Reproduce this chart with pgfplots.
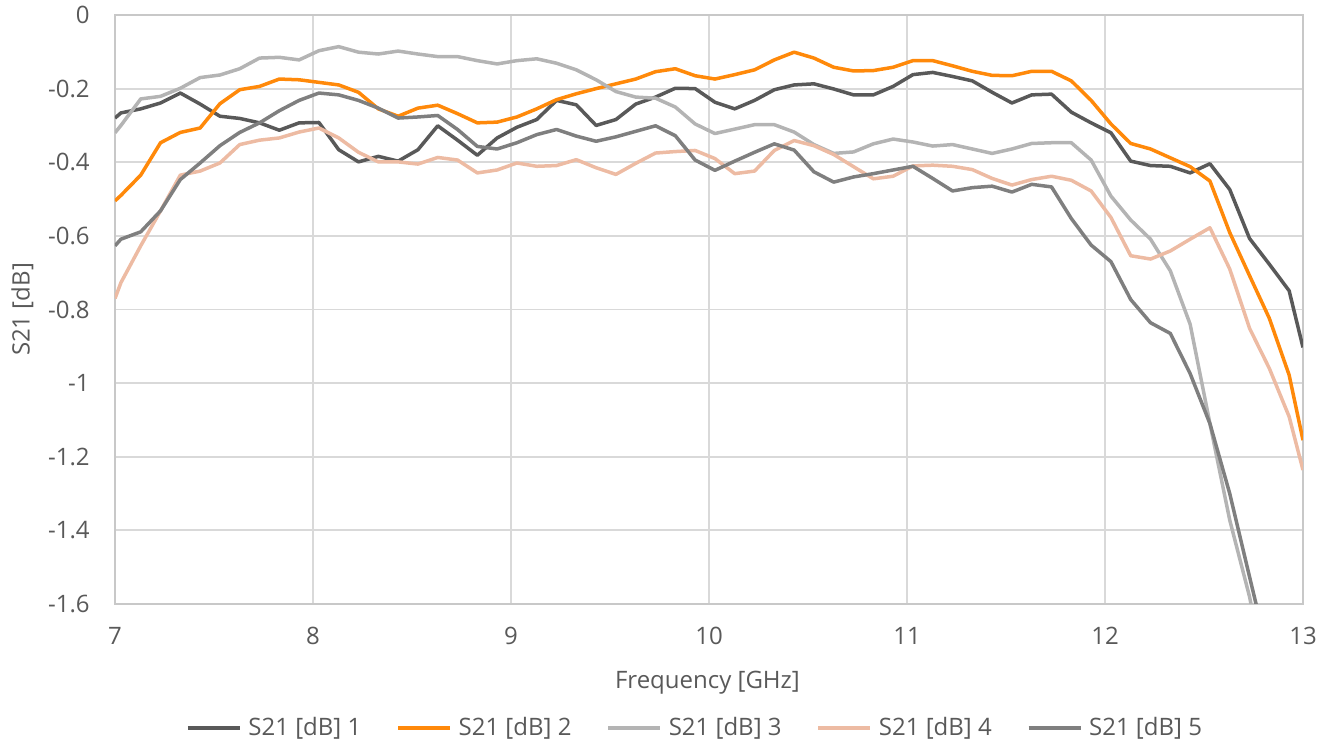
\documentclass[border=0pt]{standalone}
\usepackage{pgfplots}
\pgfplotsset{compat=1.18}
\usepackage{pgfplotstable}
\usepackage{fontspec}
\setmainfont{Open Sans}
\definecolor{s1}{RGB}{89,89,89}
\definecolor{s2}{RGB}{255,137,10}
\definecolor{s3}{RGB}{180,180,180}
\definecolor{s4}{RGB}{237,187,163}
\definecolor{s5}{RGB}{127,127,127}
\definecolor{txt}{RGB}{89,89,89}
\definecolor{grd}{RGB}{217,217,217}
\definecolor{brd}{RGB}{200,200,200}

\pgfplotstableread{
x      a       b       c       d       e
7.00  -0.280  -0.505  -0.320  -0.770  -0.627
7.03  -0.266  -0.490  -0.300  -0.727  -0.609
7.13  -0.255  -0.435  -0.228  -0.627  -0.589
7.23  -0.239  -0.347  -0.221  -0.532  -0.532
7.33  -0.212  -0.319  -0.199  -0.435  -0.447
7.43  -0.242  -0.307  -0.170  -0.424  -0.402
7.53  -0.275  -0.241  -0.163  -0.402  -0.355
7.63  -0.281  -0.203  -0.146  -0.352  -0.319
7.73  -0.293  -0.194  -0.117  -0.340  -0.293
7.83  -0.313  -0.174  -0.115  -0.334  -0.260
7.93  -0.293  -0.176  -0.122  -0.318  -0.232
8.03  -0.292  -0.183  -0.097  -0.307  -0.212
8.13  -0.366  -0.190  -0.086  -0.334  -0.217
8.23  -0.399  -0.210  -0.101  -0.373  -0.232
8.33  -0.384  -0.255  -0.106  -0.399  -0.253
8.43  -0.397  -0.275  -0.098  -0.399  -0.280
8.53  -0.366  -0.253  -0.106  -0.405  -0.277
8.63  -0.301  -0.245  -0.113  -0.387  -0.273
8.73  -0.340  -0.268  -0.113  -0.394  -0.311
8.83  -0.381  -0.293  -0.124  -0.429  -0.357
8.93  -0.334  -0.291  -0.133  -0.421  -0.364
9.03  -0.305  -0.277  -0.124  -0.402  -0.347
9.13  -0.284  -0.255  -0.119  -0.411  -0.325
9.23  -0.232  -0.230  -0.131  -0.409  -0.311
9.33  -0.244  -0.214  -0.149  -0.393  -0.329
9.43  -0.300  -0.200  -0.176  -0.415  -0.343
9.53  -0.284  -0.187  -0.208  -0.433  -0.331
9.63  -0.242  -0.174  -0.223  -0.403  -0.316
9.73  -0.223  -0.154  -0.226  -0.375  -0.301
9.83  -0.199  -0.146  -0.250  -0.371  -0.328
9.93  -0.200  -0.165  -0.296  -0.368  -0.394
10.03 -0.237  -0.174  -0.322  -0.390  -0.422
10.13 -0.255  -0.162  -0.310  -0.431  -0.397
10.23 -0.232  -0.149  -0.298  -0.424  -0.373
10.33 -0.203  -0.122  -0.298  -0.368  -0.350
10.43 -0.190  -0.101  -0.318  -0.341  -0.367
10.53 -0.187  -0.117  -0.352  -0.355  -0.426
10.63 -0.201  -0.142  -0.376  -0.379  -0.454
10.73 -0.217  -0.152  -0.372  -0.412  -0.440
10.83 -0.217  -0.151  -0.350  -0.445  -0.431
10.93 -0.194  -0.142  -0.337  -0.438  -0.421
11.03 -0.162  -0.124  -0.345  -0.410  -0.411
11.13 -0.156  -0.124  -0.356  -0.408  -0.444
11.23 -0.167  -0.138  -0.352  -0.411  -0.478
11.33 -0.179  -0.153  -0.364  -0.420  -0.469
11.43 -0.210  -0.164  -0.376  -0.444  -0.465
11.53 -0.239  -0.165  -0.364  -0.462  -0.481
11.63 -0.217  -0.153  -0.349  -0.447  -0.460
11.73 -0.215  -0.153  -0.347  -0.438  -0.467
11.83 -0.264  -0.179  -0.347  -0.449  -0.553
11.93 -0.293  -0.232  -0.394  -0.478  -0.625
12.03 -0.320  -0.296  -0.492  -0.550  -0.670
12.13 -0.397  -0.349  -0.557  -0.654  -0.773
12.23 -0.409  -0.364  -0.609  -0.663  -0.836
12.33 -0.411  -0.388  -0.695  -0.641  -0.865
12.43 -0.429  -0.412  -0.840  -0.609  -0.974
12.53 -0.404  -0.451  -1.110  -0.578  -1.110
12.63 -0.474  -0.591  -1.372  -0.690  -1.300
12.73 -0.607  -0.708  -1.580  -0.851  -1.526
12.83 -0.677  -0.824  -1.850  -0.960  -1.750
12.93 -0.749  -0.978  -2.100  -1.091  -1.950
13.00 -0.903  -1.155  -2.300  -1.236  -2.100
}\data

\begin{document}
\begin{tikzpicture}
\useasboundingbox (-57.5bp,-70.5bp) rectangle (607bp,302bp);
\begin{axis}[
  at={(0,0)}, anchor=south west,
  scale only axis, width=594bp, height=294.5bp,
  xmin=7, xmax=13, ymin=-1.6, ymax=0,
  xtick={7,8,9,10,11,12,13},
  ytick={-1.6,-1.4,-1.2,-1,-0.8,-0.6,-0.4,-0.2,0},
  grid=major,
  major grid style={draw=grd, line width=0.9bp},
  axis line style={draw=brd, line width=0.9bp},
  major tick length=0pt,
  tick label style={font=\fontsize{12bp}{14bp}\selectfont, text=txt},
  /pgf/number format/assume math mode=true,
  yticklabel style={anchor=east, inner sep=0pt, xshift=-12.5bp},
  xticklabel style={anchor=base, inner sep=0pt, yshift=-20.25bp},
  xlabel={Frequency [GHz]}, ylabel={S21 [dB]},
  label style={font=\fontsize{12bp}{14bp}\selectfont, text=txt},
  xlabel style={at={(axis description cs:0.4987,-0.1335)}, anchor=center},
  ylabel style={at={(axis description cs:-0.0779,0.5)}, anchor=center},
  legend columns=5,
  legend style={at={(axis description cs:0.4874,-0.2105)}, anchor=center,
    draw=none, fill=none, font=\fontsize{12bp}{14bp}\selectfont, text=txt,
    inner sep=0pt, nodes={inner xsep=0pt, inner ysep=1pt},
    /tikz/every odd column/.append style={column sep=3.3bp},
    /tikz/every even column/.append style={column sep=17.45bp}},
  legend image code/.code={\draw[#1, line width=1.9bp] (0bp,0bp) -- (26bp,0bp);},
  every axis plot/.append style={line width=1.75bp, line join=round},
]
\addplot[s1] table[x=x, y=a] {\data};
\addlegendentry{S21 [dB] 1}
\addplot[s2] table[x=x, y=b] {\data};
\addlegendentry{S21 [dB] 2}
\addplot[s3] table[x=x, y=c] {\data};
\addlegendentry{S21 [dB] 3}
\addplot[s4] table[x=x, y=d] {\data};
\addlegendentry{S21 [dB] 4}
\addplot[s5] table[x=x, y=e] {\data};
\addlegendentry{S21 [dB] 5}
\end{axis}
\end{tikzpicture}
\end{document}
